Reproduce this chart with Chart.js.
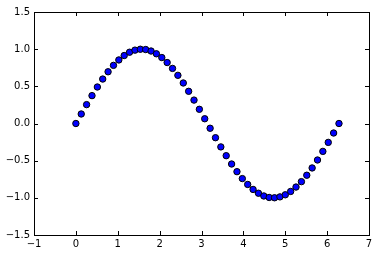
<!DOCTYPE html>
<html>
<head>
<meta charset="utf-8">
<script src="https://cdn.jsdelivr.net/npm/chart.js@4/dist/chart.umd.min.js"></script>
<style>
  body { margin: 0; background: #fff; }
  canvas { display: block; }
</style>
</head>
<body>
<canvas id="sine" width="378" height="256"></canvas>
<script>
// sample positions and values
var xs = [0.000, 0.128, 0.256, 0.385, 0.513, 0.641, 0.769, 0.898, 1.026, 1.154,
          1.282, 1.411, 1.539, 1.667, 1.795, 1.923, 2.052, 2.180, 2.308, 2.436,
          2.565, 2.693, 2.821, 2.949, 3.077, 3.206, 3.334, 3.462, 3.590, 3.719,
          3.847, 3.975, 4.103, 4.232, 4.360, 4.488, 4.616, 4.744, 4.873, 5.001,
          5.129, 5.257, 5.386, 5.514, 5.642, 5.770, 5.898, 6.027, 6.155, 6.283];
var ys = [0.000, 0.128, 0.254, 0.375, 0.491, 0.598, 0.696, 0.782, 0.855, 0.914,
          0.959, 0.987, 0.999, 0.995, 0.975, 0.938, 0.887, 0.820, 0.741, 0.648,
          0.545, 0.433, 0.315, 0.191, 0.064, -0.064, -0.191, -0.315, -0.433, -0.545,
          -0.648, -0.741, -0.820, -0.887, -0.938, -0.975, -0.995, -0.999, -0.987, -0.959,
          -0.914, -0.855, -0.782, -0.696, -0.598, -0.491, -0.375, -0.254, -0.128, 0.000];
var xTicks = [-1, 0, 1, 2, 3, 4, 5, 6, 7];
var yTicks = [-1.5, -1.0, -0.5, 0.0, 0.5, 1.0, 1.5];

var points = xs.map(function (x, i) { return { x: x, y: ys[i] }; });

function minus(s) { return s.replace('-', '\u2212'); }

// box around the plot plus inward ticks on all four sides
var frame = {
    id: 'frame',
    afterDraw: function (chart) {
        var c = chart.ctx, a = chart.chartArea;
        var sx = chart.scales.x, sy = chart.scales.y;
        c.save();
        c.strokeStyle = '#000';
        c.lineWidth = 1;
        c.beginPath();
        xTicks.forEach(function (t) {
            var px = Math.round(sx.getPixelForValue(t)) + 0.5;
            c.moveTo(px, a.bottom); c.lineTo(px, a.bottom - 4);
            c.moveTo(px, a.top); c.lineTo(px, a.top + 4);
        });
        yTicks.forEach(function (t) {
            var py = Math.round(sy.getPixelForValue(t)) + 0.5;
            c.moveTo(a.left, py); c.lineTo(a.left + 4, py);
            c.moveTo(a.right, py); c.lineTo(a.right - 4, py);
        });
        c.stroke();
        c.strokeRect(Math.round(a.left) + 0.5, Math.round(a.top) + 0.5,
                     Math.round(a.right - a.left), Math.round(a.bottom - a.top));
        c.restore();
    }
};

var ctx = document.getElementById('sine').getContext('2d');
var chart = new Chart(ctx, {
    type: 'scatter',
    data: {
        datasets: [{
            data: points,
            backgroundColor: '#0000ff',
            borderColor: '#000',
            borderWidth: 1,
            pointRadius: 3.2
        }]
    },
    options: {
        responsive: false,
        animation: false,
        layout: { padding: { top: 12, right: 9, left: 0, bottom: 0 } },
        plugins: { legend: { display: false }, tooltip: { enabled: false } },
        scales: {
            x: {
                type: 'linear', min: -1, max: 7,
                afterFit: function (s) { s.height = 21; },
                afterBuildTicks: function (s) { s.ticks = xTicks.map(function (v) { return { value: v }; }); },
                grid: { display: false, drawTicks: false },
                border: { display: false },
                ticks: {
                    color: '#000', padding: 3, maxRotation: 0,
                    font: { family: 'DejaVu Sans', size: 10 },
                    callback: function (v) { return minus(String(v)); }
                }
            },
            y: {
                min: -1.5, max: 1.5,
                afterFit: function (s) { s.width = 34; },
                afterBuildTicks: function (s) { s.ticks = yTicks.map(function (v) { return { value: v }; }); },
                grid: { display: false, drawTicks: false },
                border: { display: false },
                ticks: {
                    color: '#000', padding: 4,
                    font: { family: 'DejaVu Sans', size: 10 },
                    callback: function (v) { return minus(v.toFixed(1)); }
                }
            }
        }
    },
    plugins: [frame]
});
</script>
</body>
</html>
